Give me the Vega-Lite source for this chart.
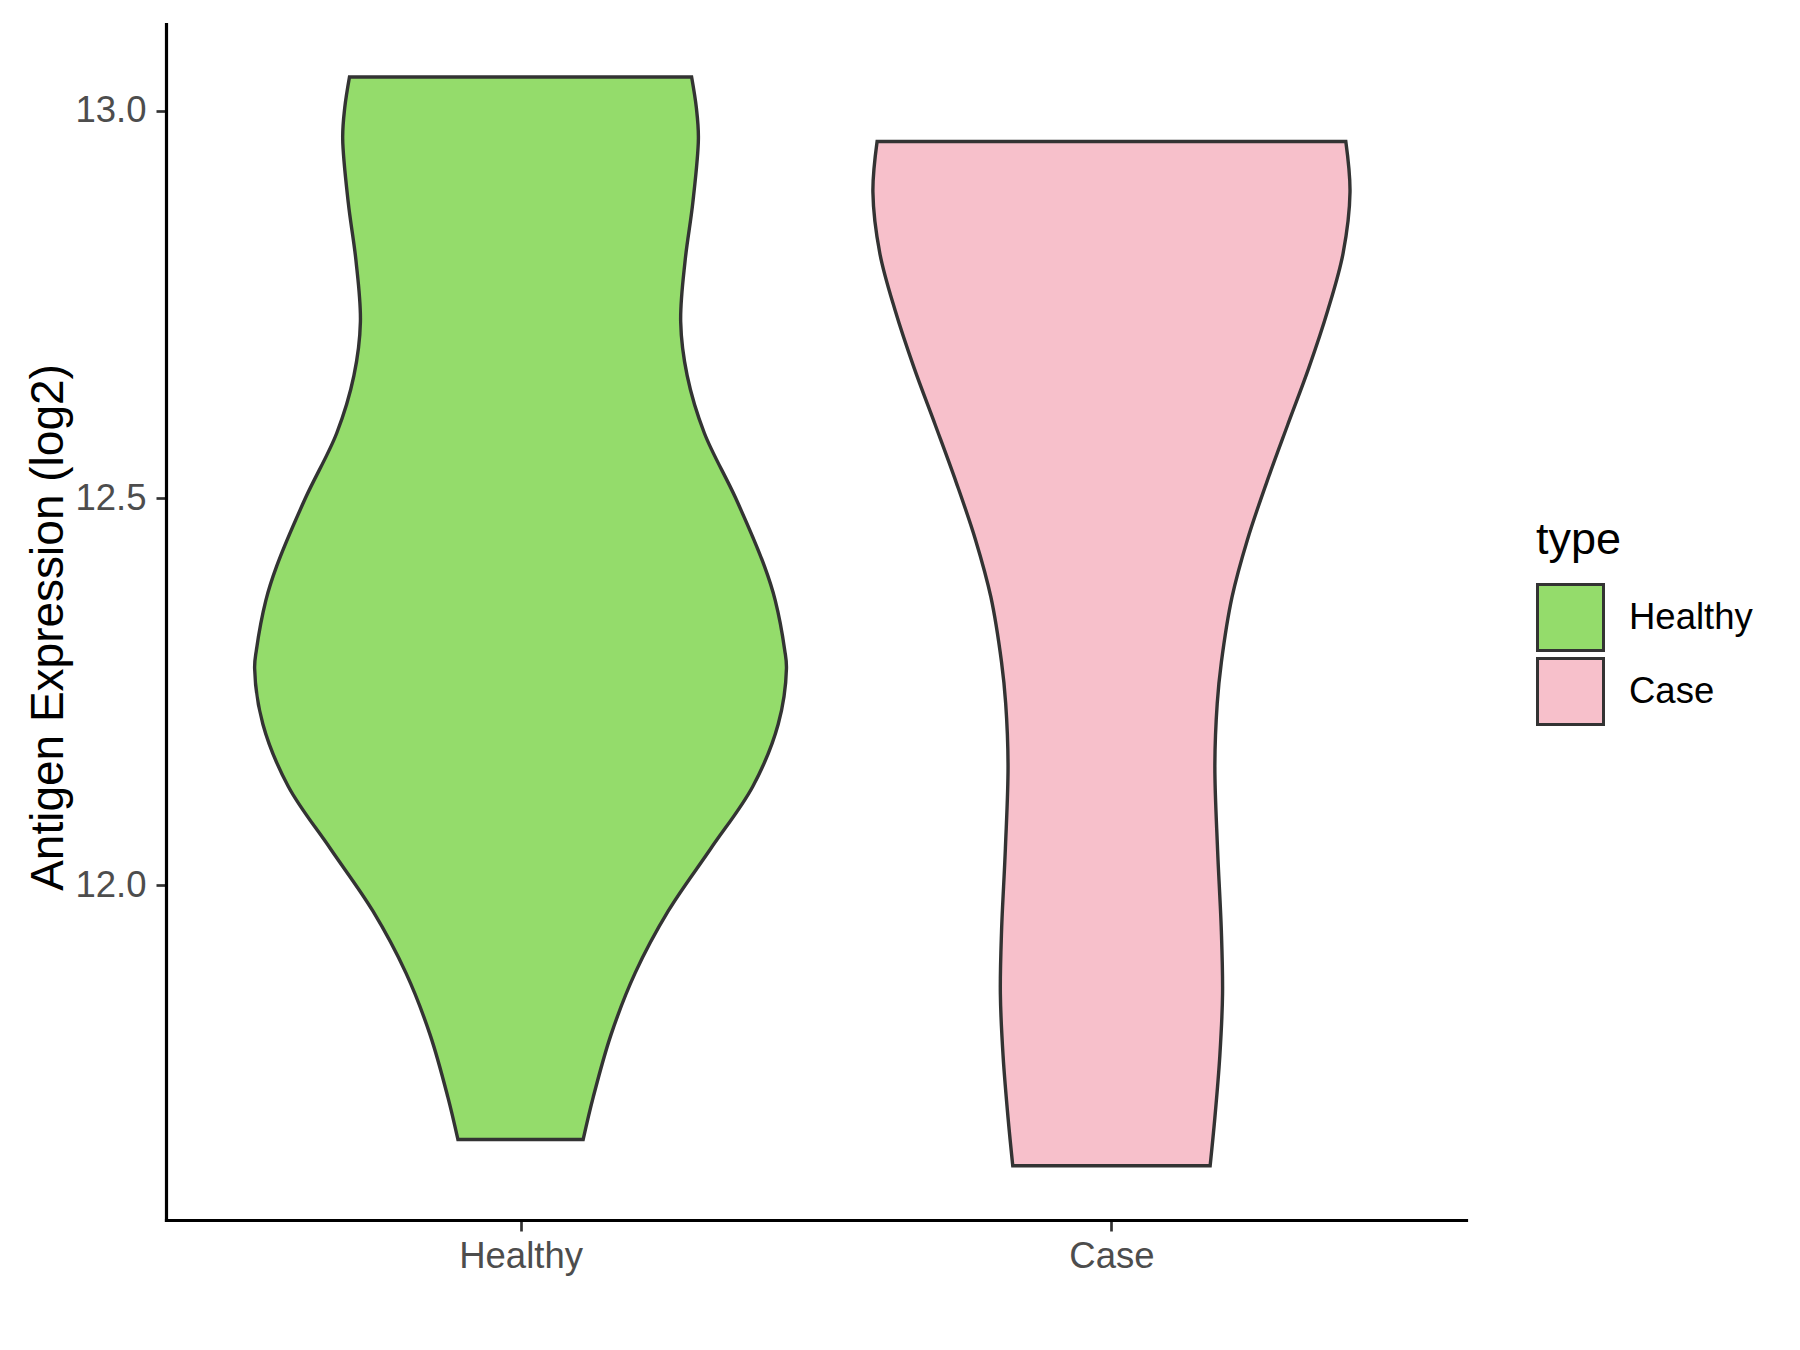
{
  "$schema": "https://vega.github.io/schema/vega-lite/v6.json",
  "width": 1300,
  "height": 1196,
  "autosize": {"type": "none"},
  "padding": {"left": 166, "top": 24, "right": 334, "bottom": 130},
  "background": "white",
  "config": {"view": {"stroke": null}, "font": "Liberation Sans"},
  "data": {
    "values": [
      {"type": "Healthy", "value": 13.0435, "density": 0.2895},
      {"type": "Healthy", "value": 13.004, "density": 0.2975},
      {"type": "Healthy", "value": 12.9645, "density": 0.301},
      {"type": "Healthy", "value": 12.881, "density": 0.2915},
      {"type": "Healthy", "value": 12.8065, "density": 0.2785},
      {"type": "Healthy", "value": 12.7275, "density": 0.271},
      {"type": "Healthy", "value": 12.658, "density": 0.282},
      {"type": "Healthy", "value": 12.584, "density": 0.311},
      {"type": "Healthy", "value": 12.5, "density": 0.364},
      {"type": "Healthy", "value": 12.4115, "density": 0.413},
      {"type": "Healthy", "value": 12.368, "density": 0.431},
      {"type": "Healthy", "value": 12.304, "density": 0.447},
      {"type": "Healthy", "value": 12.28, "density": 0.45},
      {"type": "Healthy", "value": 12.208, "density": 0.436},
      {"type": "Healthy", "value": 12.1277, "density": 0.393},
      {"type": "Healthy", "value": 12.0476, "density": 0.322},
      {"type": "Healthy", "value": 11.967, "density": 0.25},
      {"type": "Healthy", "value": 11.887, "density": 0.194},
      {"type": "Healthy", "value": 11.807, "density": 0.153},
      {"type": "Healthy", "value": 11.7266, "density": 0.123},
      {"type": "Healthy", "value": 11.672, "density": 0.106},
      {"type": "Case", "value": 12.9603, "density": 0.3966},
      {"type": "Case", "value": 12.895, "density": 0.4037},
      {"type": "Case", "value": 12.816, "density": 0.392},
      {"type": "Case", "value": 12.742, "density": 0.366},
      {"type": "Case", "value": 12.668, "density": 0.334},
      {"type": "Case", "value": 12.594, "density": 0.298},
      {"type": "Case", "value": 12.52, "density": 0.2626},
      {"type": "Case", "value": 12.446, "density": 0.23},
      {"type": "Case", "value": 12.372, "density": 0.204},
      {"type": "Case", "value": 12.288, "density": 0.186},
      {"type": "Case", "value": 12.235, "density": 0.179},
      {"type": "Case", "value": 12.1545, "density": 0.175},
      {"type": "Case", "value": 12.0476, "density": 0.1795},
      {"type": "Case", "value": 11.941, "density": 0.186},
      {"type": "Case", "value": 11.86, "density": 0.188},
      {"type": "Case", "value": 11.78, "density": 0.1834},
      {"type": "Case", "value": 11.7, "density": 0.175},
      {"type": "Case", "value": 11.638, "density": 0.167}
    ]
  },
  "transform": [
    {"calculate": "datum.type === 'Healthy' ? 1 : 2", "as": "pos"},
    {"calculate": "datum.pos - datum.density", "as": "lo"},
    {"calculate": "datum.pos + datum.density", "as": "hi"}
  ],
  "mark": {
    "type": "area",
    "orient": "horizontal",
    "interpolate": "catmull-rom",
    "stroke": "#333333",
    "strokeWidth": 3.4,
    "opacity": 1,
    "fillOpacity": 1
  },
  "encoding": {
    "y": {
      "field": "value",
      "type": "quantitative",
      "scale": {"domain": [11.568, 13.112], "zero": false, "nice": false},
      "axis": {
        "values": [12, 12.5, 13],
        "format": ".1f",
        "title": "Antigen Expression (log2)",
        "titleFontSize": 46,
        "titleFontWeight": "normal",
        "titleColor": "#000000",
        "titleAngle": -90,
        "titleX": -104,
        "titleY": 603,
        "titleAlign": "center",
        "titleBaseline": "alphabetic",
        "labelFontSize": 36.5,
        "labelColor": "#4D4D4D",
        "labelPadding": 10,
        "tickSize": 10,
        "tickColor": "#333333",
        "tickWidth": 2.7,
        "domainColor": "#000000",
        "domainWidth": 3.2,
        "domainCap": "square",
        "grid": false
      }
    },
    "x": {
      "field": "lo",
      "type": "quantitative",
      "scale": {"domain": [0.4, 2.6], "zero": false, "nice": false},
      "axis": {
        "values": [1, 2],
        "labelExpr": "datum.value === 1 ? 'Healthy' : 'Case'",
        "title": null,
        "labelFontSize": 36.5,
        "labelColor": "#4D4D4D",
        "labelPadding": 7,
        "tickSize": 11,
        "tickColor": "#333333",
        "tickWidth": 2.7,
        "domainColor": "#000000",
        "domainWidth": 3.2,
        "domainCap": "square",
        "grid": false
      }
    },
    "x2": {"field": "hi"},
    "color": {
      "field": "type",
      "type": "nominal",
      "scale": {"domain": ["Healthy", "Case"], "range": ["#94DC6B", "#F7C0CB"]},
      "legend": {
        "title": "type",
        "orient": "none",
        "legendX": 1370,
        "legendY": 494,
        "padding": 0,
        "symbolType": "square",
        "symbolSize": 4356,
        "symbolStrokeColor": "#333333",
        "symbolStrokeWidth": 3,
        "symbolOpacity": 1,
        "symbolFillOpacity": 1,
        "labelFontSize": 36.5,
        "labelColor": "#000000",
        "labelOffset": 24,
        "titleFontSize": 45,
        "titleFontWeight": "normal",
        "titleColor": "#000000",
        "titlePadding": 20,
        "rowPadding": -9
      }
    }
  }
}
